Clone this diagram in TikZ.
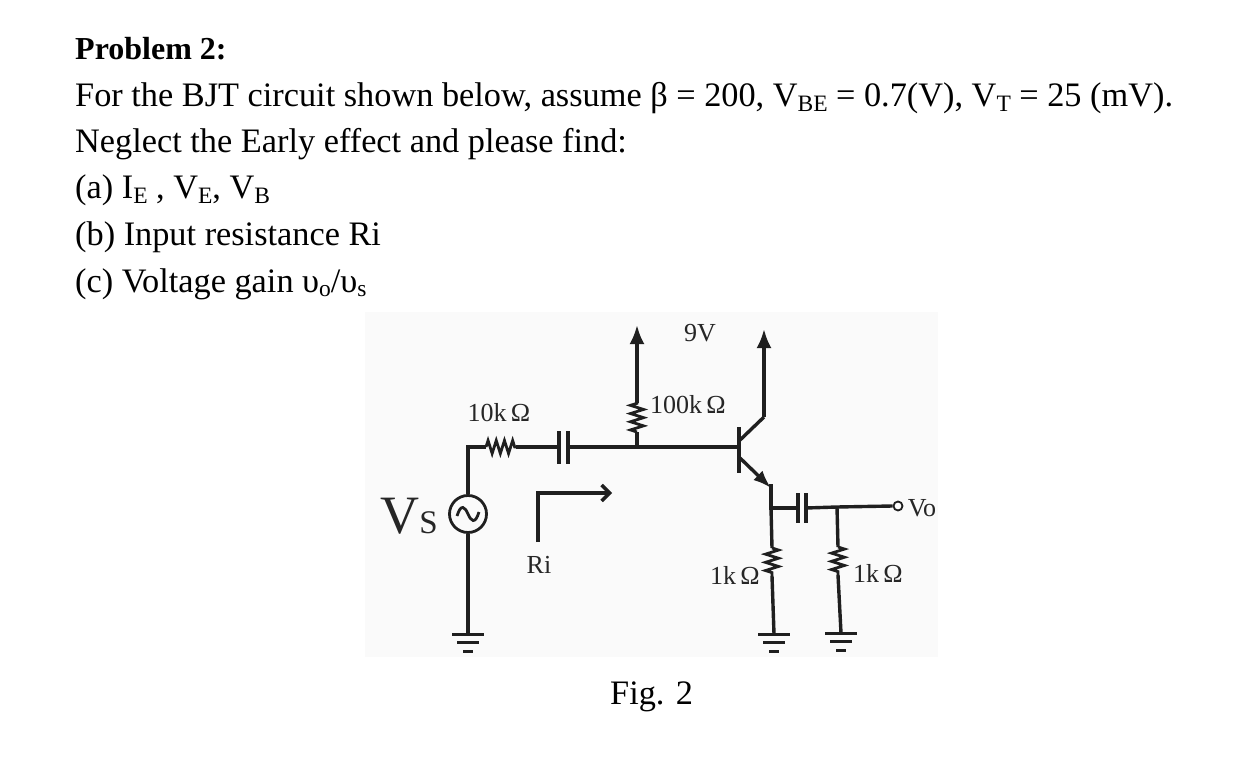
\documentclass[tikz,border=0pt]{standalone}
\usepackage{fontspec}
\setmainfont{Liberation Serif}
\usetikzlibrary{arrows.meta,decorations.pathmorphing}
\newcommand{\lowtxt}[1]{\raisebox{-0.12em}{\fontsize{23.5}{23.5}\selectfont #1}}
\tikzset{
  textline/.style={anchor=base west,inner sep=0pt,font=\fontsize{34.3}{34.3}\selectfont},
  lab/.style={inner sep=0pt,font=\fontsize{26}{26}\selectfont,text=black!85},
  wire/.style={draw=black!88,line width=3.4pt},
  bar/.style={draw=black!88,line width=3pt},
  capplate/.style={draw=black!88,line width=3.6pt},
  res/.style={wire,line width=2.8pt,decorate,decoration={zigzag,segment length=8.2pt,amplitude=6.5pt}},
  uparrow/.style={wire,-{Latex[length=19pt,width=15pt]}},
  pin/.style={circle,draw=black!88,line width=1.8pt,minimum size=9pt,inner sep=0pt,fill=white}
}
\newcommand{\gnd}[2]{%
  \draw[bar] (#1-16,#2) -- (#1+16,#2);
  \draw[bar] (#1-11,#2+8) -- (#1+11,#2+8);
  \draw[bar] (#1-5,#2+17) -- (#1+5,#2+17);
}
\begin{document}
\begin{tikzpicture}[x=1pt,y=-1pt]
\useasboundingbox (0,0) rectangle (1237,762);
\fill[black!2] (365,312) rectangle (938,657);
% text
\node[textline,font=\fontsize{32}{32}\selectfont\bfseries] (t1) at (75,60) {Problem 2:};
\node[textline] (t2) at (75,107) {For the BJT circuit shown below, assume β = 200, V\lowtxt{BE} = 0.7(V), V\lowtxt{T} = 25 (mV).};
\node[textline] (t3) at (75,153) {Neglect the Early effect and please find:};
\node[textline] (t4) at (75,199) {(a) I\lowtxt{E} , V\lowtxt{E}, V\lowtxt{B}};
\node[textline] (t5) at (75,245) {(b) Input resistance Ri};
\node[textline] (t6) at (75,292) {(c) Voltage gain υ\lowtxt{o}/υ\lowtxt{s}};
\node[textline] (fig) at (610,704) {Fig. 2};
% coordinates
\coordinate (srctop) at (468,447);
\coordinate (r1a) at (486,447);
\coordinate (r1b) at (516,447);
\coordinate (c1a) at (559,447);
\coordinate (c1b) at (568,447);
\coordinate (jb) at (637,447);
\coordinate (r2a) at (637,432);
\coordinate (r2b) at (637,403);
\coordinate (vcc1) at (637,325);
\coordinate (base) at (739,447);
\coordinate (bt) at (739,427);
\coordinate (bb) at (739,473);
\coordinate (col) at (739,441);
\coordinate (colb) at (764,417);
\coordinate (vcc2) at (764,329);
\coordinate (em) at (740,458);
\coordinate (emb) at (771,488);
\coordinate (emt) at (771,484);
\coordinate (je) at (771,508);
\coordinate (c2a) at (798,508);
\coordinate (c2b) at (806,508);
\coordinate (jo) at (837,507);
\coordinate (r3a) at (772,548);
\coordinate (r3b) at (772,576);
\coordinate (g2) at (774,634);
\coordinate (r4a) at (838,547);
\coordinate (r4b) at (838,575);
\coordinate (g3) at (841,633);
\coordinate (g1) at (468,634);
\coordinate (ria) at (538,542);
\coordinate (rib) at (538,493);
\coordinate (ric) at (612,493);
% source
\node[circle,draw=black!88,line width=2.8pt,minimum size=37pt,inner sep=0pt] (src) at (468,514) {};
\draw[draw=black!88,line width=2.8pt] (457,516) .. controls (461,503) and (465,507) .. (468,514) .. controls (471,521) and (475,525) .. (479,512);
\node[pin] (vo) at (898,506) {};
% wires
\draw[wire] (src.north) -- (srctop) -- (r1a);
\draw[res] (r1a) -- (r1b);
\draw[wire] (r1b) -- (c1a);
\draw[capplate] (559,431) -- (559,464);
\draw[capplate] (568,431) -- (568,464);
\draw[wire] (c1b) -- (jb) -- (base);
\draw[wire] (jb) -- (r2a);
\draw[res] (r2a) -- (r2b);
\draw[uparrow] (r2b) -- (vcc1);
\draw[wire,line width=4pt] (bt) -- (bb);
\draw[wire] (col) -- (colb);
\draw[uparrow] (colb) -- (vcc2);
\draw[wire,-{Latex[length=18pt,width=13pt]}] (em) -- (emb);
\draw[wire] (emt) -- (je) -- (c2a);
\draw[wire] (je) -- (r3a);
\draw[res] (r3a) -- (r3b);
\draw[wire] (r3b) -- (g2);
\draw[capplate] (798,493) -- (798,523);
\draw[capplate] (806,493) -- (806,523);
\draw[wire] (c2b) -- (jo) -- (vo.west);
\draw[wire] (jo) -- (r4a);
\draw[res] (r4a) -- (r4b);
\draw[wire] (r4b) -- (g3);
\draw[wire] (src.south) -- (g1);
\gnd{468}{634}
\gnd{774}{634}
\gnd{841}{633}
\draw[wire,-{Straight Barb[length=8pt,width=16pt]}] (ria) -- (rib) -- (ric);
% labels
\node[lab] (l9v) at (700,333) {9V};
\node[lab] (l100k) at (688,405) {100k\,Ω};
\node[lab] (l10k) at (499,413) {10k\,Ω};
\node[lab] (lri) at (539,565) {Ri};
\node[lab] (l1ka) at (735,575) {1k\,Ω};
\node[lab] (l1kb) at (878,573) {1k\,Ω};
\node[lab] (lvo) at (922,508) {Vo};
\node[anchor=base east,inner sep=0pt,text=black!85] (lvs) at (438,533) {\fontsize{54}{54}\selectfont V\fontsize{33}{33}\selectfont S};
\end{tikzpicture}
\end{document}
